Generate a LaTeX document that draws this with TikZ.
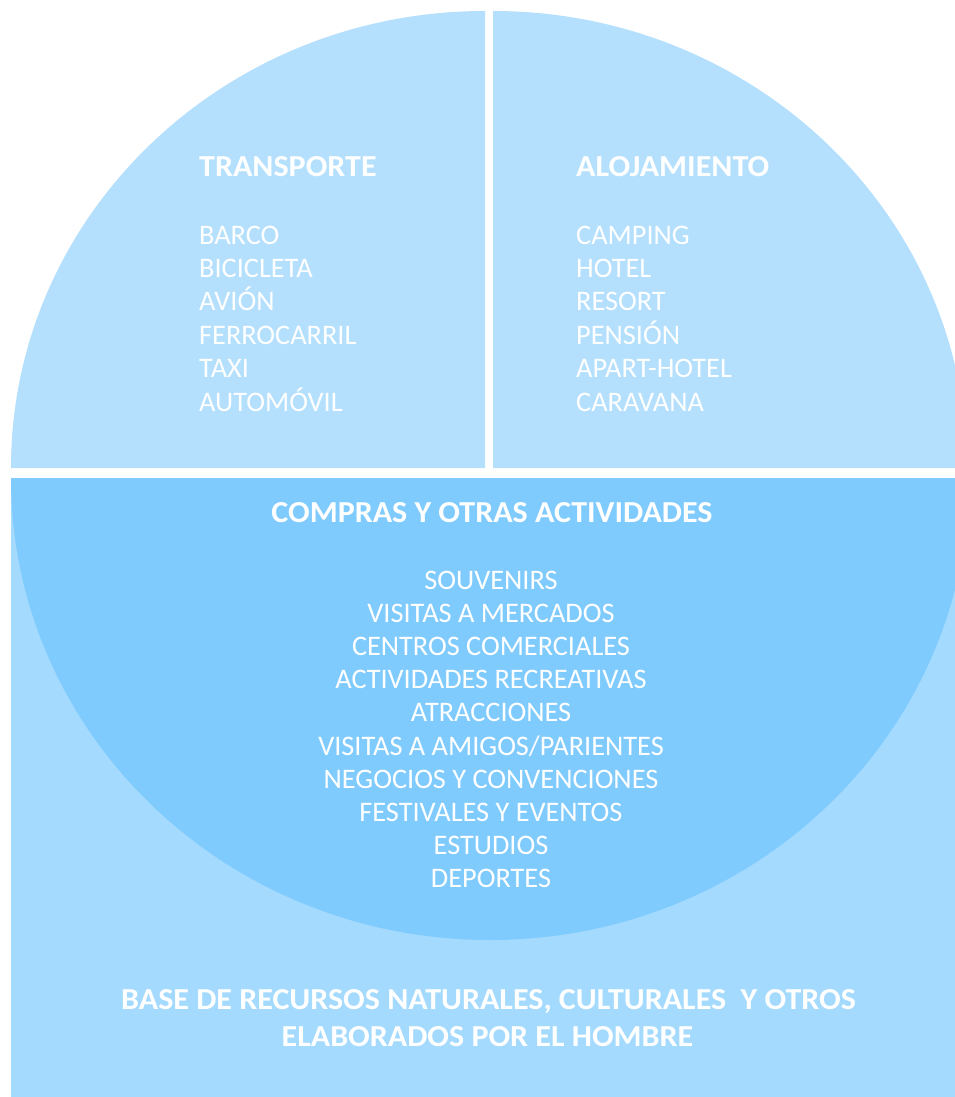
\documentclass[tikz,border=0pt]{standalone}
\usepackage{fontspec}
\setmainfont{Carlito}
\newfontfamily\ttlfont[FakeStretch=1.05]{Carlito}
\definecolor{topc}{RGB}{180,224,254}
\definecolor{basec}{RGB}{163,218,254}
\definecolor{midc}{RGB}{128,203,254}
\tikzset{
  lbl/.style={text=white, inner sep=0pt, font=\fontsize{28.3bp}{33bp}\selectfont},
  ttl/.style={lbl, font=\ttlfont\fontsize{30.5bp}{36bp}\selectfont\bfseries},
}
\begin{document}
\begin{tikzpicture}[x=1bp,y=-1bp]
\useasboundingbox (0,0) rectangle (955,1097);
\clip (0,0) rectangle (955,1097);
\fill[white] (0,0) rectangle (955,1097);
% base rectangle
\fill[basec] (11,478) rectangle (960,1100);
% middle half disc
\fill[midc] (11,478) arc[start angle=180,end angle=0,x radius=479,y radius=462] -- cycle;
% top quadrants
\fill[topc] (485,468) -- (11,468) arc[start angle=180,end angle=270,x radius=474,y radius=457] -- cycle;
\fill[topc] (493,468) -- (493,11) arc[start angle=270,end angle=360,x radius=474,y radius=457] -- cycle;
% texts
\node[ttl, anchor=base west] (tt) at (199,176) {TRANSPORTE};
\foreach \t [count=\i] in {BARCO,BICICLETA,AVIÓN,FERROCARRIL,TAXI,AUTOMÓVIL}
  \node[lbl, anchor=base west] (tr\i) at (199,{210.6+33.4*\i}) {\t};
\node[ttl, anchor=base west] (at) at (576,176) {ALOJAMIENTO};
\foreach \t [count=\i] in {CAMPING,HOTEL,RESORT,PENSIÓN,APART-HOTEL,CARAVANA}
  \node[lbl, anchor=base west] (al\i) at (576,{210.6+33.4*\i}) {\t};
\node[ttl, anchor=base] (ct) at (492,522) {COMPRAS Y OTRAS ACTIVIDADES};
\foreach \t [count=\i] in {SOUVENIRS,VISITAS A MERCADOS,CENTROS COMERCIALES,ACTIVIDADES RECREATIVAS,ATRACCIONES,VISITAS A AMIGOS/PARIENTES,NEGOCIOS Y CONVENCIONES,FESTIVALES Y EVENTOS,ESTUDIOS,DEPORTES}
  \node[lbl, anchor=base] (co\i) at (491,{555.8+33.2*\i}) {\t};
\node[ttl, anchor=base] (b1) at (488.5,1009) {BASE DE RECURSOS NATURALES, CULTURALES \ Y OTROS};
\node[ttl, anchor=base] (b2) at (487.5,1046) {ELABORADOS POR EL HOMBRE};
\end{tikzpicture}
\end{document}
